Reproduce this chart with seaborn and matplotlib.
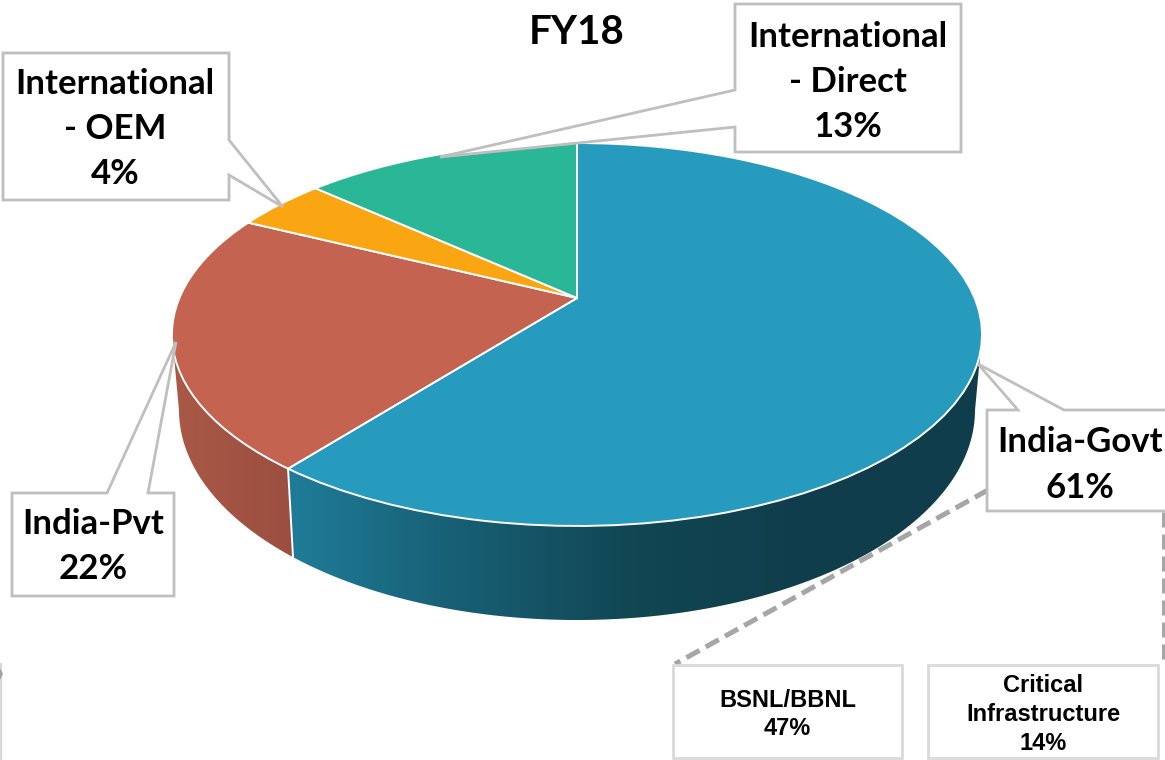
import numpy as np
import matplotlib
matplotlib.use('Agg')
import matplotlib.pyplot as plt
from matplotlib.colors import LinearSegmentedColormap
from matplotlib.patches import Polygon
from matplotlib.transforms import Transform
import seaborn as sns

# Data (slice sizes estimated, labels show them rounded)
segments = ['India-Govt', 'India-Pvt', 'International\n- OEM', 'International\n- Direct']
shares = [60.6, 21.7, 4.4, 13.3]
colors = ['#279BBE', '#C46450', '#FAA612', '#29B797']
title = 'FY18'
sub_labels = ['BSNL/BBNL\n47%', 'Critical\nInfrastructure\n14%']

sns.set_theme(style='white')
plt.rcParams['font.family'] = ['Lato', 'DejaVu Sans']

# Perspective of the pie, in pixels of the picture
CX, CY = 577, 298
A, C, K = 397.6, 184.5, 0.1906
DEPTH_SCALE = 398 / 405
BOTTOM_CY, BOTTOM_A, BOTTOM_B = 410, 398, 210


class PieProjection(Transform):
    # tilts the flat unit pie into the drawn ellipse
    input_dims = 2
    output_dims = 2

    def transform_non_affine(self, values):
        values = np.asarray(values)
        u, v = values[:, 0], values[:, 1]
        w = 1 + K * v
        return np.column_stack([CX + A * u / w, CY - C * v / w])


def rim(theta_deg):
    t = np.radians(theta_deg)
    return PieProjection().transform_non_affine(np.column_stack([np.cos(t), np.sin(t)]))


def lower_rim(top):
    x = CX + (top[:, 0] - CX) * DEPTH_SCALE
    f = np.sqrt(np.clip(1 - ((x - CX) / BOTTOM_A) ** 2, 0, 1))
    return np.column_stack([x, BOTTOM_CY + BOTTOM_B * f])


fig = plt.figure(figsize=(11.65, 7.6), dpi=100)
ax = fig.add_axes([0, 0, 1, 1])

wedges, _ = ax.pie(shares, colors=sns.color_palette(colors), startangle=90, counterclock=False,
                   wedgeprops={'edgecolor': 'white', 'linewidth': 1.4, 'zorder': 5})
for wedge in wedges:
    wedge.set_transform(PieProjection() + ax.transData)
    wedge.set_clip_on(False)

ax.set_aspect('auto')
ax.axis('off')

# Side wall, only the front of the pie shows one
wall_maps = [
    LinearSegmentedColormap.from_list('govt', ['#1F7C99', '#175E73', '#114653', '#103D4B', '#103D4B']),
    LinearSegmentedColormap.from_list('pvt', ['#AA5946', '#9B4E40']),
]
split = wedges[0].theta1
front_left, front_right = -169, -11
wall_angles = [np.linspace(split, front_right, 160), np.linspace(front_left, split, 60)]
for angles, cmap in zip(wall_angles, wall_maps):
    top = rim(angles)
    outline = np.vstack([top, lower_rim(top)[::-1]])
    clip = Polygon(outline, closed=True, transform=ax.transData, fc='none', ec='none')
    ax.add_patch(clip)
    img = ax.imshow(np.linspace(0, 1, 256)[None, :], cmap=cmap, aspect='auto', zorder=2,
                    extent=[outline[:, 0].min(), outline[:, 0].max(), outline[:, 1].max(), outline[:, 1].min()])
    img.set_clip_path(clip)
ax.set_xlim(0, 1165)
ax.set_ylim(760, 0)

# white seam between the two walls
seam_top = rim(np.array([split]))
seam_low = lower_rim(seam_top)
ax.plot([seam_top[0, 0], seam_low[0, 0]], [seam_top[0, 1], seam_low[0, 1]], color='white', lw=1.4, zorder=3)

# Dashed links to the breakdown boxes
dash = dict(color='#A6A6A6', lw=3.6, dashes=(3.0, 1.4), dash_capstyle='butt', zorder=6)
ax.plot([988, 675], [490, 664], **dash)
ax.plot([1163.5, 1163.5], [512, 664], **dash)

# Callouts
box_color = '#BFBFBF'
callouts = [
    (0, [(987, 410), (1018, 410), (978, 364), (1064, 410), (1175, 410), (1175, 511), (987, 511)], (1080, 465)),
    (1, [(12, 493), (107, 493), (176, 342), (148, 493), (174, 493), (174, 596), (12, 596)], (93, 546.5)),
    (2, [(3, 53), (229, 53), (229, 140), (283, 207), (229, 175), (229, 200), (3, 200)], (115, 129)),
    (3, [(735, 4), (961, 4), (961, 152), (735, 152), (735, 127), (440, 157), (735, 90)], (848, 82)),
]
for idx, pts, pos in callouts:
    ax.add_patch(Polygon(pts, closed=True, fc='white', ec=box_color, lw=2.0, zorder=7))
    ax.text(pos[0], pos[1], f'{segments[idx]}\n{shares[idx]:.0f}%', ha='center', va='center', fontsize=25,
            fontweight='bold', color='black', linespacing=1.5, zorder=8)

ax.text(577, 33, title, ha='center', va='center', fontsize=29, fontweight='bold', color='black')

# Breakdown boxes
sub_boxes = [((673, 665), 229, 93), ((928, 665), 230, 93)]
for ((x0, y0), w, h), label in zip(sub_boxes, sub_labels):
    ax.add_patch(Polygon([(x0, y0), (x0 + w, y0), (x0 + w, y0 + h), (x0, y0 + h)], closed=True,
                         fc='white', ec='#D9D9D9', lw=2.0, zorder=7))
    ax.text(x0 + w / 2, y0 + h / 2 + 3, label, ha='center', va='center', fontsize=17, fontweight='bold',
            family=['Liberation Sans'], color='black', linespacing=1.33, zorder=8)

# cut-off box at the left edge of the picture
ax.plot([1, 1], [664, 760], color='#D9D9D9', lw=1.6, zorder=7)
ax.add_patch(Polygon([(0, 668), (3, 674), (0, 680)], closed=True, fc='#A6A6A6', ec='none', zorder=8))

fig.savefig('out.png', dpi=100)
